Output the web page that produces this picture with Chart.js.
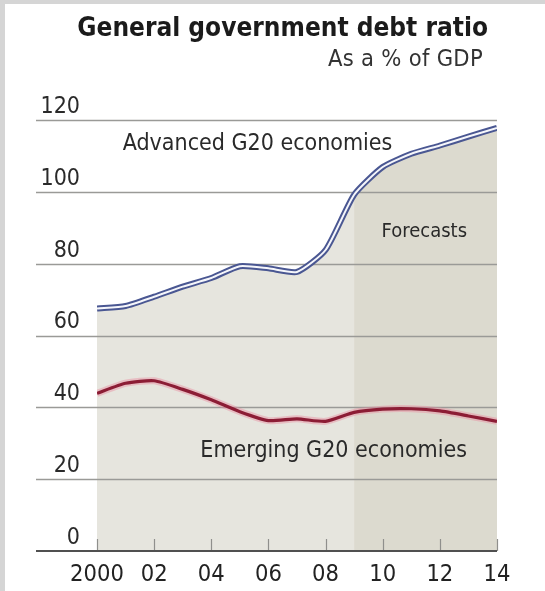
<!DOCTYPE html>
<html>
<head>
<meta charset="utf-8">
<script src="https://cdn.jsdelivr.net/npm/chart.js@4/dist/chart.umd.min.js"></script>
<style>
  html, body { margin: 0; padding: 0; background: #fff; }
  #wrap { position: relative; width: 545px; height: 591px; overflow: hidden; background: #fff; }
  #frameL { position: absolute; left: 0; top: 0; width: 5px; height: 591px; background: #d5d5d5; }
  #frameT { position: absolute; left: 0; top: 0; width: 545px; height: 4px; background: #d5d5d5; }
  #title { position: absolute; right: 57px; top: 14px; font: bold 26px 'DejaVu Sans Condensed', 'DejaVu Sans', sans-serif; color: #1b1b1b; white-space: nowrap; line-height: 1; }
  #sub { position: absolute; right: 62px; top: 47px; font: 23.5px 'DejaVu Sans Condensed', 'DejaVu Sans', sans-serif; color: #333; white-space: nowrap; line-height: 1; letter-spacing: 0.3px; }
  canvas { position: absolute; left: 0; top: 0; }
</style>
</head>
<body>
<div id="wrap">
  <canvas id="c" width="545" height="591"></canvas>
  <div id="frameL"></div>
  <div id="frameT"></div>
  <div id="title">General government debt ratio</div>
  <div id="sub">As a % of GDP</div>
</div>
<script>
// ---- data ----
const years = [2000, 2001, 2002, 2003, 2004, 2005, 2006, 2007, 2008, 2009, 2010, 2011, 2012, 2013, 2014];
const advanced = [67.5, 68.2, 70.8, 73.6, 76.0, 79.3, 78.7, 77.7, 83.8, 99.2, 106.9, 110.6, 112.9, 115.4, 117.8];
const emerging = [43.9, 46.7, 47.4, 45.0, 42.1, 38.8, 36.3, 36.8, 36.1, 38.6, 39.5, 39.6, 39.0, 37.6, 36.1];
const forecastStart = 2009;
const xTickValues = [2000, 2002, 2004, 2006, 2008, 2010, 2012, 2014];
const xTickLabels = ['2000', '02', '04', '06', '08', '10', '12', '14'];
const yTickValues = [0, 20, 40, 60, 80, 100, 120];
const yTickLabels = ['0', '20', '40', '60', '80', '100', '120'];
const seriesNames = ['Advanced G20 economies', 'Emerging G20 economies'];
const forecastLabel = 'Forecasts';

// ---- build ----
const FONT = "'DejaVu Sans Condensed', 'DejaVu Sans', sans-serif";
const advPts = years.map((yr, i) => ({ x: yr, y: advanced[i] }));
const emPts = years.map((yr, i) => ({ x: yr, y: emerging[i] }));
const fcPts = advPts.filter(p => p.x >= forecastStart);
const TENSION = 0.2;

const annotations = [
  { text: seriesNames[0], x: 2000.9, y: 113.2, align: 'left', size: 23 },
  { text: forecastLabel, x: 2012.95, y: 89.0, align: 'right', size: 20 },
  { text: seriesNames[1], x: 2012.95, y: 27.7, align: 'right', size: 23 }
];

const gridOverFill = {
  id: 'gridOverFill',
  afterDatasetDraw(chart, args) {
    if (args.index !== 1) return;
    const { ctx, chartArea, scales: { x, y } } = chart;
    ctx.save();
    const left = chartArea.left - 61;
    yTickValues.forEach(v => {
      if (v === 0) return;
      const py = Math.round(y.getPixelForValue(v)) + 0.5;
      ctx.beginPath();
      ctx.moveTo(left, py);
      ctx.lineTo(chartArea.right, py);
      ctx.strokeStyle = '#9a9a97';
      ctx.lineWidth = 1.3;
      ctx.stroke();
    });
    const y0 = y.getPixelForValue(0);
    ctx.strokeStyle = '#8f8f8c';
    ctx.lineWidth = 1.2;
    xTickValues.forEach(v => {
      const px = Math.round(x.getPixelForValue(v)) + 0.5;
      ctx.beginPath();
      ctx.moveTo(px, y0);
      ctx.lineTo(px, y0 - 12);
      ctx.stroke();
    });
    ctx.beginPath();
    ctx.moveTo(left, y0);
    ctx.lineTo(chartArea.right, y0);
    ctx.strokeStyle = '#505050';
    ctx.lineWidth = 2;
    ctx.stroke();
    ctx.restore();
  }
};

const labelsPlugin = {
  id: 'labels',
  afterDatasetsDraw(chart) {
    const { ctx, scales: { x, y } } = chart;
    ctx.save();
    ctx.fillStyle = '#2a2a2a';
    ctx.textBaseline = 'middle';
    annotations.forEach(a => {
      ctx.font = a.size + 'px ' + FONT;
      ctx.textAlign = a.align;
      ctx.fillText(a.text, x.getPixelForValue(a.x), y.getPixelForValue(a.y));
    });
    ctx.restore();
  }
};

new Chart(document.getElementById('c'), {
  type: 'line',
  data: {
    datasets: [
      { label: 'fill', data: advPts, fill: 'origin', backgroundColor: '#e6e5de', borderColor: 'transparent', borderWidth: 0, pointRadius: 0, tension: TENSION, order: 10 },
      { label: 'forecastFill', data: fcPts, fill: 'origin', backgroundColor: '#dcdacf', borderColor: 'transparent', borderWidth: 0, pointRadius: 0, tension: TENSION, order: 9 },
      { label: seriesNames[0], data: advPts, borderColor: '#4a5792', borderWidth: 6, pointRadius: 0, tension: TENSION, fill: false, order: 4 },
      { label: seriesNames[0] + ' inner', data: advPts, borderColor: '#f5f6fb', borderWidth: 2, pointRadius: 0, tension: TENSION, fill: false, order: 3 },
      { label: seriesNames[1] + ' glow', data: emPts, borderColor: 'rgba(232,140,160,0.45)', borderWidth: 7, pointRadius: 0, tension: TENSION, fill: false, order: 2 },
      { label: seriesNames[1], data: emPts, borderColor: '#8c1d35', borderWidth: 3.2, pointRadius: 0, tension: TENSION, fill: false, order: 1 }
    ]
  },
  options: {
    responsive: false,
    animation: false,
    devicePixelRatio: 1,
    layout: { padding: { left: 0, right: 48, top: 120, bottom: 0 } },
    plugins: { legend: { display: false }, tooltip: { enabled: false }, title: { display: false } },
    scales: {
      x: {
        type: 'linear', min: years[0], max: years[years.length - 1],
        grid: { display: false, drawTicks: false },
        border: { display: false },
        afterBuildTicks: s => { s.ticks = xTickValues.map(v => ({ value: v })); },
        afterFit: s => { s.height = 40; },
        ticks: {
          autoSkip: false, maxRotation: 0, padding: 10, color: '#222',
          font: { family: FONT, size: 23.5 },
          callback: (v, i) => xTickLabels[i]
        }
      },
      y: {
        min: 0, max: 120,
        grid: { display: false, drawTicks: false },
        border: { display: false },
        afterBuildTicks: s => { s.ticks = yTickValues.map(v => ({ value: v })); },
        afterFit: s => { s.width = 97; },
        ticks: {
          padding: 17, labelOffset: -13, color: '#2a2a2a',
          font: { family: FONT, size: 23 },
          callback: (v, i) => yTickLabels[i]
        }
      }
    }
  },
  plugins: [gridOverFill, labelsPlugin]
});
</script>
</body>
</html>
